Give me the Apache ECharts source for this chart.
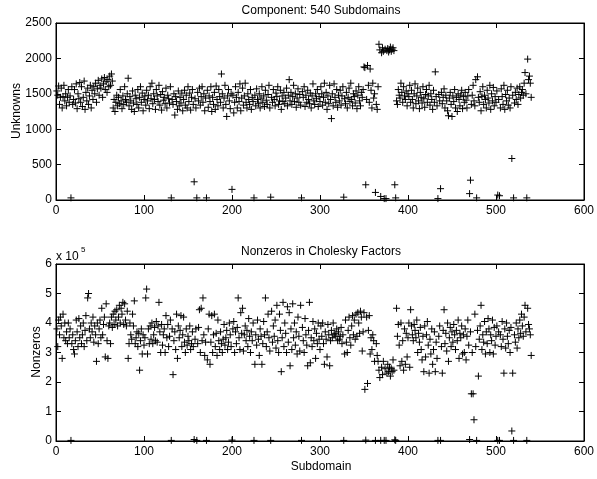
<!DOCTYPE html>
<html>
<head>
<meta charset="utf-8">
<script src="https://cdn.jsdelivr.net/npm/echarts@6/dist/echarts.min.js"></script>
<style>
html,body{margin:0;padding:0;background:#fff;}
#c{width:597px;height:479px;}
</style>
</head>
<body>
<div id="c"></div>
<script>
// Unknowns per subdomain (subdomains 1..540)
const unknowns = [
1540,1480,1610,1350,1450,1580,1300,1460,1620,1400,1500,1330,1450,1560,1380,1470,30,1600,1350,1420,
1560,1370,1640,1290,1500,1430,1660,1380,1600,1320,1450,1680,1280,1520,1400,1580,1350,1470,1620,1300,
1550,1420,1600,1500,1650,1380,1570,1690,1480,1620,1580,1710,1450,1640,1730,1560,1670,1520,1700,1600,
1750,1620,1780,1680,1300,1420,1250,1380,1480,1330,1450,1360,1560,1400,1290,1470,1350,1600,1420,1380,
1500,1720,1330,1460,1400,1280,1540,1370,1250,1480,1430,1350,1560,1300,1450,1600,1380,1510,1260,1420,
1470,1340,1550,1400,1480,1290,1600,1430,1650,1360,1500,1420,1280,1560,1470,1390,1620,1340,1490,1270,
1530,1410,1450,1360,1580,1300,1480,1430,1370,1600,30,1420,1350,1500,1200,1460,1390,1280,1540,1330,
1450,1370,1510,1260,1420,1550,1340,1480,1300,1600,1390,1510,1270,1450,1560,1350,257,1430,1300,30,
1520,1400,1580,1340,1460,1600,1380,1500,1260,1440,30,1550,1310,1470,1390,1600,1250,1450,1350,1520,
1280,1610,1420,1330,1560,1460,1380,1780,1500,1300,1440,1620,1350,1180,1470,1560,1400,1290,1500,150,
1480,1230,1380,1600,1450,1300,1520,1390,1640,1260,1440,1580,1340,1470,1650,1380,1300,1500,1420,1350,
1560,1280,1450,1390,30,1480,1330,1570,1420,1360,1500,1300,1440,1600,1380,1470,1320,1550,1410,1350,
1490,1620,1300,40,1450,1380,1560,1420,1330,1510,1460,1600,1350,1400,1550,1280,1470,1390,1520,1360,
1440,1580,1330,1480,1700,1400,1520,1350,1460,1620,1390,1500,1310,1440,1570,1380,1490,1340,30,1530,
1450,1600,1320,1480,1380,1550,1420,1360,1510,1300,1470,1640,1400,1350,1500,1430,1560,1320,1460,1390,
1600,1500,1340,1450,1650,1380,1520,1280,1470,1360,1620,1420,1150,1500,1330,1640,1450,1380,1560,1310,
1480,1400,1550,1340,1470,1600,40,1430,1360,1520,1300,1450,1580,1390,1650,1420,1330,1500,1460,1370,
1540,1290,1480,1600,1400,1330,1520,1450,1560,1880,1870,215,1420,1900,1620,1380,1850,1550,1300,1650,
1440,1500,107,1350,1280,1600,2200,2120,50,2080,2150,2100,20,2130,20,2110,2140,2090,2120,2160,
2100,2130,2150,2110,215,30,1400,1350,1560,1480,1440,1650,1520,1380,1600,1470,1420,1540,1330,1500,
1460,1620,1380,1550,1420,1300,1500,1640,1360,1470,1580,1400,1290,1520,1450,1370,1600,1430,1310,1490,
1560,1380,1470,1620,1340,1500,1420,1280,1550,1380,1810,1460,1330,20,1490,1400,160,1520,1360,1450,
1570,1300,1480,1400,1260,1190,1440,1520,1350,1180,1470,1390,1560,1300,1450,1250,1500,1420,1330,1480,
1550,1290,1460,1380,1520,1410,1300,1470,1560,90,280,1350,1480,1620,1400,1330,1700,30,1740,1450,
1380,1530,1260,1460,1600,1350,1480,1420,1300,1550,1440,1370,1620,1280,1500,1400,1590,1330,1460,1380,
1540,70,1420,60,1300,1570,1460,1350,1620,1280,1490,1400,1550,1340,1440,1300,1600,586,1480,30,
1370,1520,1420,1580,1350,1490,1600,1440,1520,1560,1480,1650,1800,1500,30,1990,1700,1750,1650,1450
];
// Nonzeros in Cholesky factors, in units of 10^5
const nonzerosE5 = [
3.8,3.2,4.1,3.6,4.2,3.9,2.8,4.3,3.5,4.0,3.4,3.7,3.3,4.0,3.5,3.8,0.02,3.3,3.6,3.1,
2.95,3.4,4.1,3.7,3.2,4.15,3.5,3.9,3.3,3.6,4.0,3.2,3.75,4.25,3.4,4.85,5.0,3.8,3.5,4.0,
3.7,4.2,3.35,3.9,3.6,2.7,4.0,3.3,3.8,4.1,3.5,4.5,3.6,3.95,4.2,2.85,4.65,3.4,2.8,3.9,
4.0,3.3,4.2,3.85,4.3,3.95,4.4,4.1,4.45,3.9,4.2,4.6,4.0,4.5,4.3,4.7,3.95,4.65,4.1,3.9,
4.4,2.8,3.3,4.0,3.6,3.45,4.3,3.9,4.75,3.3,3.5,3.7,3.2,3.65,2.4,3.4,3.8,2.95,3.6,3.25,
3.5,4.85,5.15,2.95,3.8,3.3,3.9,3.45,4.0,3.3,3.6,3.85,3.4,4.05,3.35,3.9,4.7,3.7,3.0,3.95,
3.25,3.6,3.8,3.0,4.25,3.5,3.95,3.2,3.55,4.1,0.02,3.8,2.25,3.4,3.7,3.1,4.3,2.8,3.9,3.5,
3.75,4.25,3.2,3.6,4.2,3.35,3.0,3.8,3.25,3.55,3.4,3.9,3.1,3.3,3.7,3.2,0.05,3.45,3.8,0.02,
3.3,3.85,4.45,3.0,4.5,3.4,4.85,3.6,2.9,3.35,0.02,2.75,3.8,4.3,2.6,3.35,4.25,3.0,3.6,4.3,
3.2,3.65,2.9,4.1,3.4,3.1,3.7,3.3,3.0,3.45,3.95,3.25,3.5,3.75,3.1,3.35,4.0,3.6,3.2,0.03,
3.8,4.05,3.0,3.7,3.3,3.85,4.85,3.5,3.1,4.35,3.65,4.5,3.05,3.6,3.9,3.4,3.75,3.2,4.15,3.55,
3.0,3.7,3.4,4.0,0.02,2.6,3.6,3.25,4.1,3.45,2.9,3.8,3.55,2.6,3.3,4.05,3.6,4.85,3.2,3.7,
4.3,3.5,3.05,0.02,4.4,3.35,3.9,3.55,4.1,3.15,4.6,3.4,3.0,4.3,3.75,2.35,3.5,4.7,3.2,4.0,
3.65,3.0,4.55,3.35,4.35,2.55,3.8,3.1,4.65,3.5,4.0,3.25,3.7,2.95,4.2,3.55,3.05,4.6,0.02,3.85,
3.4,3.0,4.15,3.6,3.25,2.55,3.75,4.7,2.65,3.5,3.2,4.05,3.4,3.8,2.8,3.65,3.3,4.0,3.45,3.1,
3.9,3.55,4.0,3.3,2.6,3.7,3.45,2.85,3.95,3.6,2.55,3.4,3.75,3.5,4.0,3.6,3.65,3.55,3.8,3.4,
3.7,3.45,3.55,3.85,3.3,3.6,0.02,2.95,4.1,3.35,3.0,3.75,4.2,3.5,3.25,3.9,4.25,3.6,4.1,3.45,
4.3,3.55,4.35,4.0,3.65,4.4,4.2,3.05,3.7,4.35,1.75,0.03,4.2,1.95,3.75,4.25,2.95,3.5,3.1,3.6,
3.4,2.7,0.02,3.3,2.9,2.7,2.4,2.15,0.02,2.5,2.25,2.7,0.02,2.45,0.02,2.3,2.6,2.35,2.5,2.2,
2.45,2.35,2.75,2.4,0.04,0.02,4.5,3.55,3.95,3.25,2.55,4.0,2.7,3.4,2.4,3.8,2.6,3.65,2.85,3.5,
4.0,2.5,4.45,3.9,3.6,3.4,3.95,3.75,3.5,4.1,3.0,3.65,3.35,3.85,3.1,2.75,3.55,2.35,3.9,2.85,
3.6,4.05,3.25,2.3,3.45,2.95,3.8,2.6,3.1,3.7,2.35,3.35,2.8,0.02,3.55,3.9,0.02,3.2,2.3,3.75,
4.45,3.3,3.65,3.05,4.0,2.7,3.5,3.85,3.2,3.7,3.35,3.95,3.6,3.1,3.75,3.4,4.1,2.8,3.65,3.5,
3.9,2.95,3.6,3.0,3.8,2.75,3.55,4.1,3.25,0.05,3.7,1.6,3.0,1.6,0.72,4.3,3.2,0.02,3.75,2.2,
3.45,3.9,4.6,3.1,3.6,3.35,4.05,2.95,3.7,3.3,4.15,3.8,3.0,3.6,3.4,4.1,2.95,3.85,3.25,3.55,
3.9,0.02,3.7,0.02,3.6,3.2,4.05,3.45,2.3,3.8,3.15,4.0,3.55,3.3,3.75,3.0,3.85,0.34,2.3,0.02,
3.6,3.35,4.0,3.15,3.8,3.5,4.1,3.65,4.3,3.9,3.55,4.2,4.6,3.7,0.02,4.5,3.95,3.8,3.6,2.9
];
const xTicks = [0, 100, 200, 300, 400, 500, 600];
const unknownTicks = [0, 500, 1000, 1500, 2000, 2500];
const nonzeroTicks = [0, 1, 2, 3, 4, 5, 6];
const titleTop = 'Component: 540 Subdomains';
const titleBottom = 'Nonzeros in Cholesky Factors';
const yNameTop = 'Unknowns';
const yNameBottom = 'Nonzeros';
const xName = 'Subdomain';

const FONT = 'Liberation Sans, Arial, Helvetica, sans-serif';
const FS = 12;
const chart = echarts.init(document.getElementById('c'), null, {renderer: 'canvas'});

const plusSymbol = 'path://M0,-10L0,10M-10,0L10,0';
const tickLen = 5;

function xAx(grid, pos, labels) {
  return {
    type: 'value', gridIndex: grid, position: pos,
    min: xTicks[0], max: xTicks[xTicks.length - 1], interval: xTicks[1] - xTicks[0],
    axisLine: {show: true, onZero: false, lineStyle: {color: '#000', width: 1}},
    axisTick: {show: true, inside: true, length: tickLen, lineStyle: {color: '#000'}},
    axisLabel: {show: labels, color: '#000', fontFamily: FONT, fontSize: FS, margin: 5, formatter: v => String(v)},
    splitLine: {show: false}
  };
}
function yAx(grid, pos, ticks, labels) {
  return {
    type: 'value', gridIndex: grid, position: pos,
    min: ticks[0], max: ticks[ticks.length - 1], interval: ticks[1] - ticks[0],
    axisLine: {show: true, onZero: false, lineStyle: {color: '#000', width: 1}},
    axisTick: {show: true, inside: true, length: tickLen, lineStyle: {color: '#000'}},
    axisLabel: {show: labels, color: '#000', fontFamily: FONT, fontSize: FS, margin: 4, formatter: v => String(v)},
    splitLine: {show: false}
  };
}

const topData = unknowns.map((v, i) => [i + 1, v]);
const botData = nonzerosE5.map((v, i) => [i + 1, v]);

const seriesStyle = {
  type: 'scatter',
  symbol: plusSymbol,
  symbolSize: 7,
  itemStyle: {color: 'none', borderColor: '#000', borderWidth: 1, opacity: 1},
  emphasis: {disabled: true},
  silent: true,
  large: false
};

const f = FS + 'px ' + FONT;
chart.setOption({
  animation: false,
  backgroundColor: '#fff',
  grid: [
    {left: 56, top: 23, width: 530, height: 177, show: true, borderColor: '#000', borderWidth: 1, backgroundColor: 'transparent'},
    {left: 56, top: 264, width: 530, height: 177, show: true, borderColor: '#000', borderWidth: 1, backgroundColor: 'transparent'}
  ],
  xAxis: [xAx(0, 'bottom', true), xAx(0, 'top', false), xAx(1, 'bottom', true), xAx(1, 'top', false)],
  yAxis: [yAx(0, 'left', unknownTicks, true), yAx(0, 'right', unknownTicks, false),
          yAx(1, 'left', nonzeroTicks, true), yAx(1, 'right', nonzeroTicks, false)],
  series: [
    Object.assign({}, seriesStyle, {xAxisIndex: 0, yAxisIndex: 0, data: topData}),
    Object.assign({}, seriesStyle, {xAxisIndex: 2, yAxisIndex: 2, data: botData})
  ],
  graphic: [
    {type: 'text', x: 321, y: 11, style: {text: titleTop, font: f, fill: '#000', textAlign: 'center', textVerticalAlign: 'middle'}},
    {type: 'text', x: 321, y: 252, style: {text: titleBottom, font: f, fill: '#000', textAlign: 'center', textVerticalAlign: 'middle'}},
    {type: 'text', x: 17, y: 111, rotation: Math.PI / 2, style: {text: yNameTop, font: f, fill: '#000', textAlign: 'center', textVerticalAlign: 'middle'}},
    {type: 'text', x: 37, y: 352, rotation: Math.PI / 2, style: {text: yNameBottom, font: f, fill: '#000', textAlign: 'center', textVerticalAlign: 'middle'}},
    {type: 'text', x: 321, y: 467, style: {text: xName, font: f, fill: '#000', textAlign: 'center', textVerticalAlign: 'middle'}},
    {type: 'text', x: 56, y: 257, style: {text: 'x 10', font: f, fill: '#000', textAlign: 'left', textVerticalAlign: 'middle'}},
    {type: 'text', x: 81, y: 250, style: {text: '5', font: '8px ' + FONT, fill: '#000', textAlign: 'left', textVerticalAlign: 'middle'}}
  ]
});
</script>
</body>
</html>
